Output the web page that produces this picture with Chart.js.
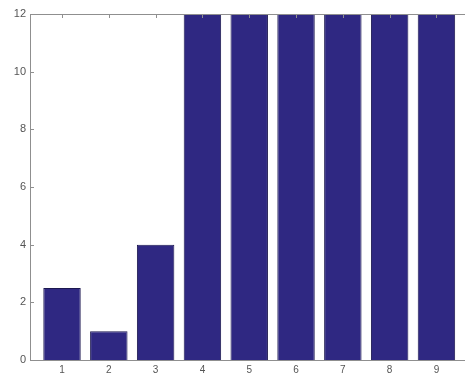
<!DOCTYPE html>
<html>
<head>
<meta charset="utf-8">
<script src="https://cdn.jsdelivr.net/npm/chart.js@4"></script>
<style>
  html, body { margin: 0; padding: 0; background: #fff; overflow: hidden; }
  #wrap { width: 465px; height: 374px; position: relative; }
</style>
</head>
<body>
<div id="wrap"><canvas id="barChart"></canvas></div>
<script>
  // values; bars 4-9 run past the top of the axes
  const categories = [1, 2, 3, 4, 5, 6, 7, 8, 9];
  const values = [2.5, 1, 4, 14, 14, 14, 14, 14, 14];
  const yTicks = [0, 2, 4, 6, 8, 10, 12];

  const AXIS = "#8f8f8f";
  const LABEL = "#555";

  // MATLAB-style inward ticks plus the top box line
  const boxTicks = {
    id: "boxTicks",
    afterDraw(chart) {
      const { ctx, chartArea: a, scales } = chart;
      ctx.save();
      ctx.strokeStyle = AXIS;
      ctx.lineWidth = 1;
      ctx.beginPath();
      ctx.moveTo(a.left, a.top + 0.5);
      ctx.lineTo(a.right, a.top + 0.5);
      categories.forEach((c) => {
        const x = Math.round(scales.x.getPixelForValue(c)) + 0.5;
        ctx.moveTo(x, a.top);
        ctx.lineTo(x, a.top + 4);
      });
      yTicks.forEach((v) => {
        const y = Math.round(scales.y.getPixelForValue(v)) + 0.5;
        ctx.moveTo(a.left, y);
        ctx.lineTo(a.left + 4, y);
      });
      ctx.stroke();
      ctx.restore();
    }
  };

  new Chart(document.getElementById("barChart"), {
    type: "bar",
    data: {
      datasets: [{
        data: categories.map((c, i) => ({ x: c, y: values[i] })),
        backgroundColor: "#2f2882",
        borderColor: "#1c1850",
        borderWidth: 1,
        barPercentage: 0.8,
        categoryPercentage: 1
      }]
    },
    options: {
      responsive: true,
      maintainAspectRatio: false,
      animation: false,
      layout: { padding: { top: 14, right: 0, left: 0, bottom: 0 } },
      plugins: { legend: { display: false }, tooltip: { enabled: false } },
      scales: {
        x: {
          type: "linear",
          offset: false,
          min: 0.316,
          max: 9.61,
          afterFit: (s) => { s.height = 14; },
          afterBuildTicks: (s) => { s.ticks = categories.map((c) => ({ value: c })); },
          grid: { display: false, drawTicks: false, offset: false },
          border: { display: true, color: AXIS, width: 1 },
          ticks: {
            padding: 4,
            color: LABEL,
            font: { family: "'Liberation Sans', Arial, sans-serif", size: 10 },
            callback: (v) => String(v)
          }
        },
        y: {
          min: 0,
          max: 12,
          afterFit: (s) => { s.width = 30; },
          afterBuildTicks: (s) => { s.ticks = yTicks.map((v) => ({ value: v })); },
          grid: { display: false, drawTicks: false },
          border: { display: true, color: AXIS, width: 1 },
          ticks: {
            padding: 4,
            color: LABEL,
            font: { family: "'Liberation Sans', Arial, sans-serif", size: 11 }
          }
        }
      }
    },
    plugins: [boxTicks]
  });
</script>
</body>
</html>
